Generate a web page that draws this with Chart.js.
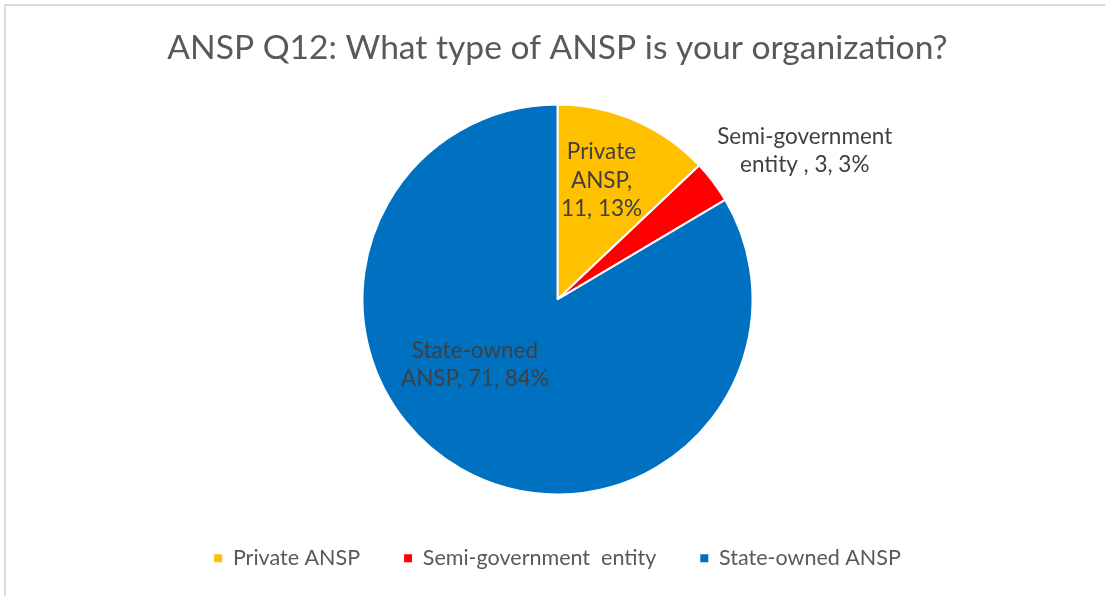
<!DOCTYPE html>
<html>
<head>
<meta charset="utf-8">
<script src="https://cdn.jsdelivr.net/npm/chart.js@4.4.0/dist/chart.umd.min.js"></script>
<style>
  html, body { margin: 0; padding: 0; background: #fff; overflow: hidden; }
  #frame {
    position: absolute; left: 4px; top: 4px;
    width: 1200px; height: 700px;
    border-left: 2px solid #d9d9d9; border-top: 2px solid #d9d9d9;
  }
  #wrap { position: absolute; left: 0; top: 0; width: 1105px; height: 596px; }
</style>
</head>
<body>
<div id="frame"></div>
<div id="wrap"><canvas id="pie-chart"></canvas></div>
<script>
// Survey answers
const categories = ["Private ANSP", "Semi-government  entity ", "State-owned ANSP"];
const counts = [11, 3, 71];
const percents = [13, 3, 84];
const colors = ["#FFC000", "#FF0000", "#0070C0"];

const FONT = "Lato";

// Where each data label sits: fraction of radius, angle shift (deg), wrap width
const labelPlacement = [
  { dist: 0.65, shift: -3, wrap: 85 },
  { dist: 1.48, shift: 6, wrap: 185 },
  { dist: 0.54, shift: 22, wrap: 150 },
];

function wrapWords(ctx, text, maxWidth) {
  const words = text.split(/\s+/).filter(w => w.length);
  const lines = [];
  let line = "";
  words.forEach(w => {
    const test = line ? line + " " + w : w;
    if (line && ctx.measureText(test).width > maxWidth) {
      lines.push(line);
      line = w;
    } else {
      line = test;
    }
  });
  if (line) lines.push(line);
  return lines;
}

// Draws "category, count, percent%" labels like the office chart
const sliceLabels = {
  id: "sliceLabels",
  afterDatasetsDraw(chart) {
    const ctx = chart.ctx;
    const meta = chart.getDatasetMeta(0);
    ctx.save();
    ctx.font = "22.5px " + FONT;
    ctx.fillStyle = "#404040";
    ctx.textAlign = "center";
    ctx.textBaseline = "middle";
    const lineH = 28.5;
    meta.data.forEach((arc, i) => {
      const p = arc.getProps(["x", "y", "startAngle", "endAngle", "outerRadius"], true);
      const place = labelPlacement[i];
      const mid = (p.startAngle + p.endAngle) / 2 + place.shift * Math.PI / 180;
      const cx = p.x + Math.cos(mid) * p.outerRadius * place.dist;
      const cy = p.y + Math.sin(mid) * p.outerRadius * place.dist;
      const text = categories[i] + ", " + counts[i] + ", " + percents[i] + "%";
      const lines = wrapWords(ctx, text, place.wrap);
      const top = cy - (lines.length - 1) * lineH / 2;
      lines.forEach((ln, k) => ctx.fillText(ln, cx, top + k * lineH));
    });
    ctx.restore();
  },
};

const ctx = document.getElementById("pie-chart").getContext("2d");
const chart = new Chart(ctx, {
  type: "pie",
  data: {
    labels: categories,
    datasets: [
      {
        data: counts,
        backgroundColor: colors,
        borderColor: "#ffffff",
        borderWidth: 2,
        radius: 195,
      },
    ],
  },
  options: {
    responsive: true,
    maintainAspectRatio: false,
    animation: false,
    layout: {
      padding: { left: 10, right: 0, top: 0, bottom: 17 },
    },
    plugins: {
      title: {
        display: true,
        text: "ANSP Q12: What type of ANSP is your organization?",
        color: "#595959",
        font: { family: FONT, size: 33.6, weight: "normal" },
        padding: { top: 28, bottom: 27 },
      },
      legend: {
        position: "bottom",
        labels: {
          boxWidth: 8,
          boxHeight: 8,
          padding: 44,
          color: "#595959",
          font: { family: FONT, size: 21.5 },
          generateLabels(c) {
            const items = Chart.overrides.pie.plugins.legend.labels.generateLabels(c);
            items.forEach(it => { it.lineWidth = 0; it.text = it.text.trimEnd(); });
            return items;
          },
        },
      },
      tooltip: { enabled: false },
    },
  },
  plugins: [sliceLabels],
});
</script>
</body>
</html>
